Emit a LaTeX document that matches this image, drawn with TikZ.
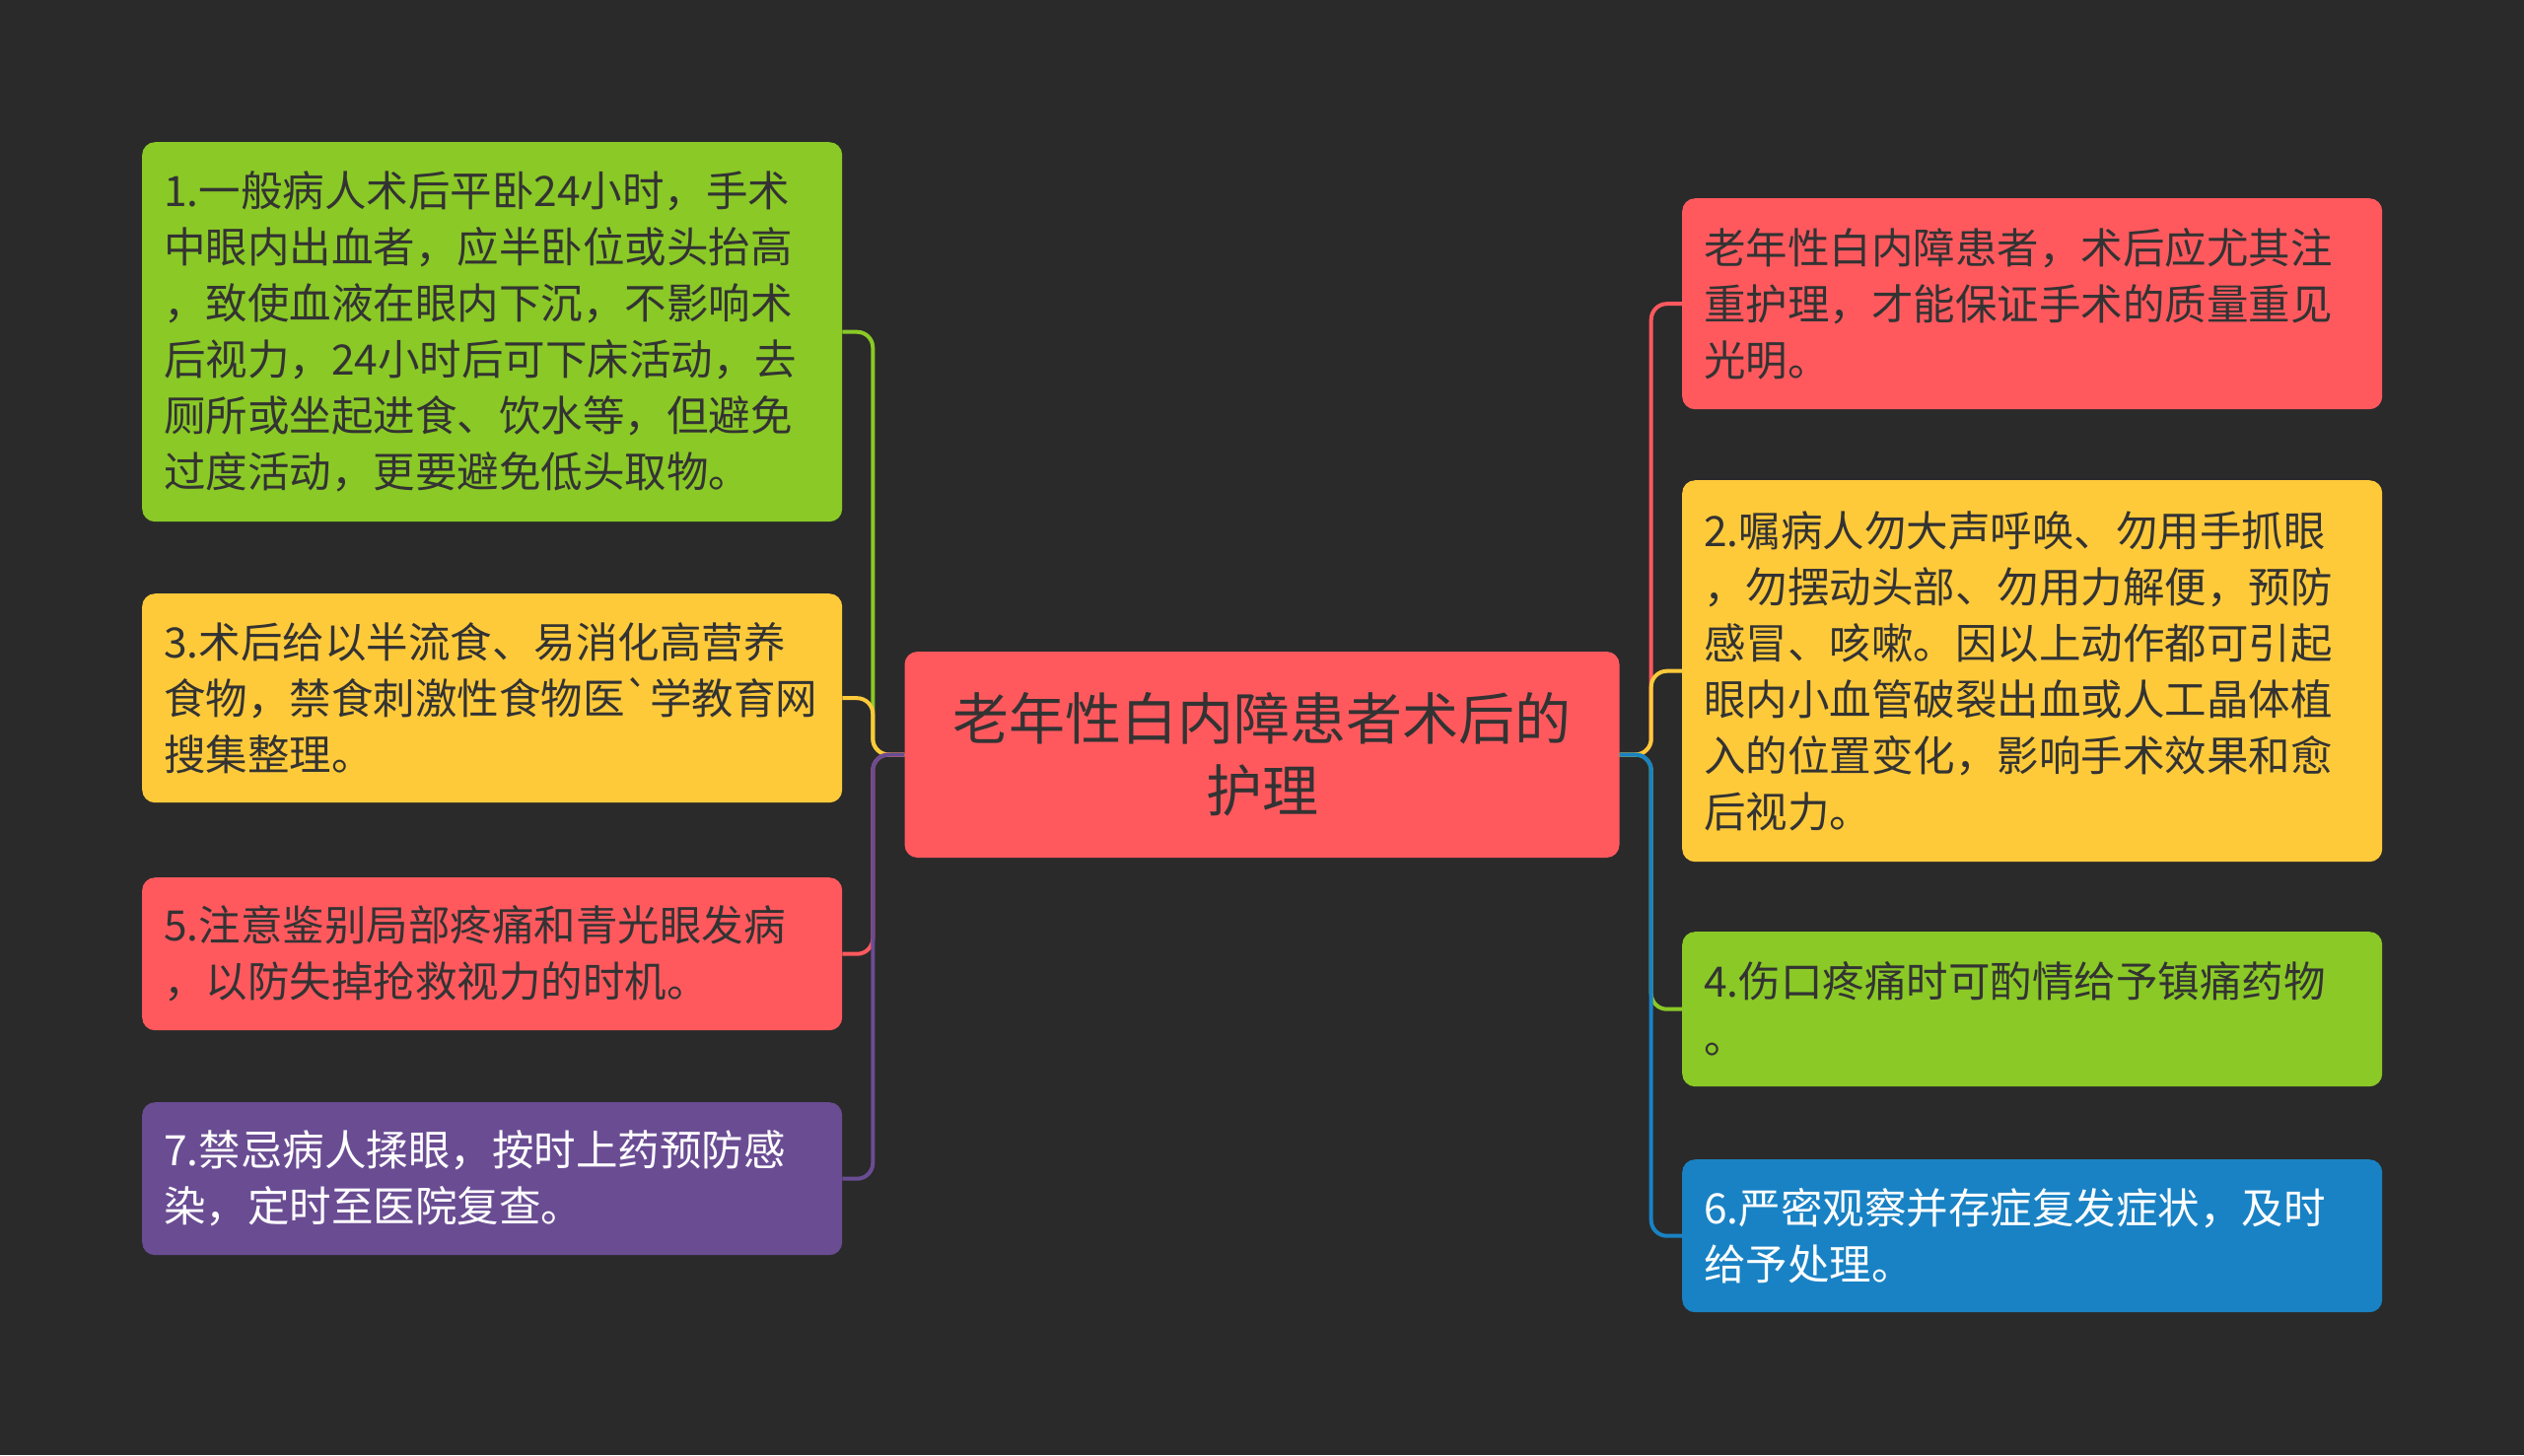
\documentclass[tikz,border=0pt]{standalone}
\usepackage{fontspec}
\newfontfamily\cjk{Noto Sans CJK SC}
\definecolor{bg}{HTML}{2A2A2A}
\definecolor{cred}{HTML}{FF595E}
\definecolor{cyellow}{HTML}{FFCA3A}
\definecolor{cgreen}{HTML}{8AC926}
\definecolor{cblue}{HTML}{1982C4}
\definecolor{cpurple}{HTML}{6A4C93}
\definecolor{darktxt}{HTML}{333333}
\tikzset{
  leaf/.style={anchor=north west, rounded corners=13pt, align=left,
    text width=666pt, inner xsep=22pt, inner ysep=0pt,
    font=\cjk\fontsize{42.5}{57}\selectfont, text=darktxt},
  rootbox/.style={rounded corners=13pt, align=center, fill=cred,
    minimum width=725pt, minimum height=209pt, inner sep=0pt,
    font=\cjk\fontsize{57}{73.5}\selectfont, text=darktxt},
  conn/.style={line width=4pt, rounded corners=16pt}
}
\begin{document}
\begin{tikzpicture}[x=1pt,y=-1pt]
\useasboundingbox (0,0) rectangle (2560,1476);
\fill[bg] (0,0) rectangle (2560,1476);

\node[rootbox] (c) at (1280,765.5) {老年性白内障患者术后的\\护理};

% left
\node[leaf, fill=cgreen, minimum height=385pt] (n1) at (144,144)
{1.一般病人术后平卧24小时，手术\\中眼内出血者，应半卧位或头抬高\\，致使血液在眼内下沉，不影响术\\后视力，24小时后可下床活动，去\\厕所或坐起进食、饮水等，但避免\\过度活动，更要避免低头取物。};
\node[leaf, fill=cyellow, minimum height=212pt] (n3) at (144,602)
{3.术后给以半流食、易消化高营养\\食物，禁食刺激性食物医{\char96}学教育网\\搜集整理。};
\node[leaf, fill=cred, minimum height=155pt] (n5) at (144,890)
{5.注意鉴别局部疼痛和青光眼发病\\，以防失掉抢救视力的时机。};
\node[leaf, fill=cpurple, minimum height=155pt, text=white] (n7) at (144,1118)
{7.禁忌病人揉眼，按时上药预防感\\染，定时至医院复查。};

% right
\node[leaf, fill=cred, minimum height=214pt] (r0) at (1706,201)
{老年性白内障患者，术后应尤其注\\重护理，才能保证手术的质量重见\\光明。};
\node[leaf, fill=cyellow, minimum height=387pt] (r2) at (1706,487)
{2.嘱病人勿大声呼唤、勿用手抓眼\\，勿摆动头部、勿用力解便，预防\\感冒、咳嗽。因以上动作都可引起\\眼内小血管破裂出血或人工晶体植\\入的位置变化，影响手术效果和愈\\后视力。};
\node[leaf, fill=cgreen, minimum height=157pt] (r4) at (1706,945)
{4.伤口疼痛时可酌情给予镇痛药物\\。};
\node[leaf, fill=cblue, minimum height=155pt, text=white] (r6) at (1706,1176)
{6.严密观察并存症复发症状，及时\\给予处理。};

% connectors left
\draw[conn, cgreen]  (c.west) -- ++(-32,0) |- (n1.east);
\draw[conn, cyellow] (c.west) -- ++(-32,0) |- (n3.east);
\draw[conn, cred]    (c.west) -- ++(-32,0) |- (n5.east);
\draw[conn, cpurple] (c.west) -- ++(-32,0) |- (n7.east);
% connectors right
\draw[conn, cred]    (c.east) -- ++(32,0) |- (r0.west);
\draw[conn, cyellow] (c.east) -- ++(32,0) |- (r2.west);
\draw[conn, cgreen]  (c.east) -- ++(32,0) |- (r4.west);
\draw[conn, cblue]   (c.east) -- ++(32,0) |- (r6.west);
\end{tikzpicture}
\end{document}
